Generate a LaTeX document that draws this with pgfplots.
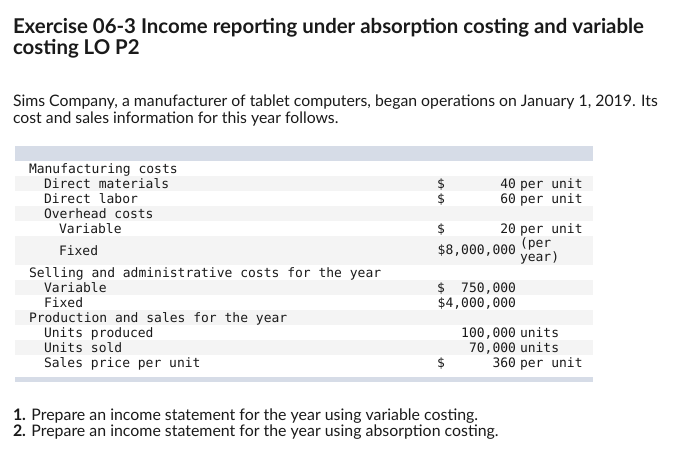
\documentclass[border=0pt]{standalone}
\usepackage{pgfplots}
\pgfplotsset{compat=1.18}
\usepackage{fontspec}
\setmainfont{Lato}
\newfontfamily\ttl{Lato}
\newfontfamily\mono{DejaVu Sans Mono}
\definecolor{hdr}{HTML}{D6DCE7}
\definecolor{shd}{HTML}{F4F4F4}
\definecolor{ink}{HTML}{1A1A1A}
\tikzset{tx/.style={inner sep=0pt, outer sep=0pt, text=ink}}
\begin{document}
\begin{tikzpicture}[x=1bp,y=1bp]
\begin{axis}[
  width=691bp, height=472bp, scale only axis,
  xmin=0, xmax=691, ymin=0, ymax=472, y dir=reverse,
  hide axis, clip=false,
]
% background
\addplot[fill=white, draw=none] coordinates {(0,0) (691,0) (691,472) (0,472)} -- cycle;
% header and footer bands
\addplot[fill=hdr, draw=none] coordinates {(15,146) (593,146) (593,161) (15,161)} -- cycle;
\addplot[fill=hdr, draw=none] coordinates {(15,377) (593,377) (593,382) (15,382)} -- cycle;
% shaded rows
\addplot[fill=shd, draw=none] coordinates {(15,176) (593,176) (593,191) (15,191)} -- cycle;
\addplot[fill=shd, draw=none] coordinates {(15,206) (593,206) (593,221) (15,221)} -- cycle;
\addplot[fill=shd, draw=none] coordinates {(15,236) (593,236) (593,265) (15,265)} -- cycle;
\addplot[fill=shd, draw=none] coordinates {(15,280) (593,280) (593,295) (15,295)} -- cycle;
\addplot[fill=shd, draw=none] coordinates {(15,310) (593,310) (593,325) (15,325)} -- cycle;
\addplot[fill=shd, draw=none] coordinates {(15,340) (593,340) (593,355) (15,355)} -- cycle;

% title
\node[tx, anchor=base west, font=\ttl\bfseries\fontsize{20.4bp}{22bp}\selectfont] at (axis cs:13,34) {Exercise 06-3 Income reporting under absorption costing and variable};
\node[tx, anchor=base west, font=\ttl\bfseries\fontsize{20.4bp}{22bp}\selectfont] at (axis cs:13,55) {costing LO P2};
% intro
\node[tx, anchor=base west, font=\fontsize{15.8bp}{17bp}\selectfont] at (axis cs:13,106) {Sims Company, a manufacturer of tablet computers, began operations on January 1, 2019. Its};
\node[tx, anchor=base west, font=\fontsize{15.8bp}{17bp}\selectfont] at (axis cs:13,123) {cost and sales information for this year follows.};

% table labels
\begin{scope}[every node/.style={tx, anchor=base west, font=\mono\fontsize{13bp}{15bp}\selectfont}]
\node at (axis cs:29,173) {Manufacturing costs};
\node at (axis cs:44,188) {Direct materials};
\node at (axis cs:44,203) {Direct labor};
\node at (axis cs:44,218) {Overhead costs};
\node at (axis cs:59,233) {Variable};
\node at (axis cs:59,255) {Fixed};
\node at (axis cs:29,277) {Selling and administrative costs for the year};
\node at (axis cs:44,292) {Variable};
\node at (axis cs:44,307) {Fixed};
\node at (axis cs:29,322) {Production and sales for the year};
\node at (axis cs:44,337) {Units produced};
\node at (axis cs:44,352) {Units sold};
\node at (axis cs:44,367) {Sales price per unit};
% dollar signs
\node at (axis cs:437,188) {\$};
\node at (axis cs:437,203) {\$};
\node at (axis cs:437,233) {\$};
\node at (axis cs:437,292) {\$};
\node at (axis cs:437,367) {\$};
% units
\node at (axis cs:520,188) {per unit};
\node at (axis cs:520,203) {per unit};
\node at (axis cs:520,233) {per unit};
\node at (axis cs:520,247) {(per};
\node at (axis cs:520,261) {year)};
\node at (axis cs:520,337) {units};
\node at (axis cs:520,352) {units};
\node at (axis cs:520,367) {per unit};
\end{scope}
\begin{scope}[every node/.style={tx, anchor=base east, font=\mono\fontsize{13bp}{15bp}\selectfont}]
\node at (axis cs:516,188) {40};
\node at (axis cs:516,203) {60};
\node at (axis cs:516,233) {20};
\node at (axis cs:516,254) {\$8,000,000};
\node at (axis cs:516,292) {750,000};
\node at (axis cs:516,307) {\$4,000,000};
\node at (axis cs:516,337) {100,000};
\node at (axis cs:516,352) {70,000};
\node at (axis cs:516,367) {360};
\end{scope}

% questions
\node[tx, anchor=base west, font=\fontsize{15.9bp}{17bp}\selectfont] at (axis cs:13,420) {\textbf{1.} Prepare an income statement for the year using variable costing.};
\node[tx, anchor=base west, font=\fontsize{15.9bp}{17bp}\selectfont] at (axis cs:13,436) {\textbf{2.} Prepare an income statement for the year using absorption costing.};
\end{axis}
\end{tikzpicture}
\end{document}
